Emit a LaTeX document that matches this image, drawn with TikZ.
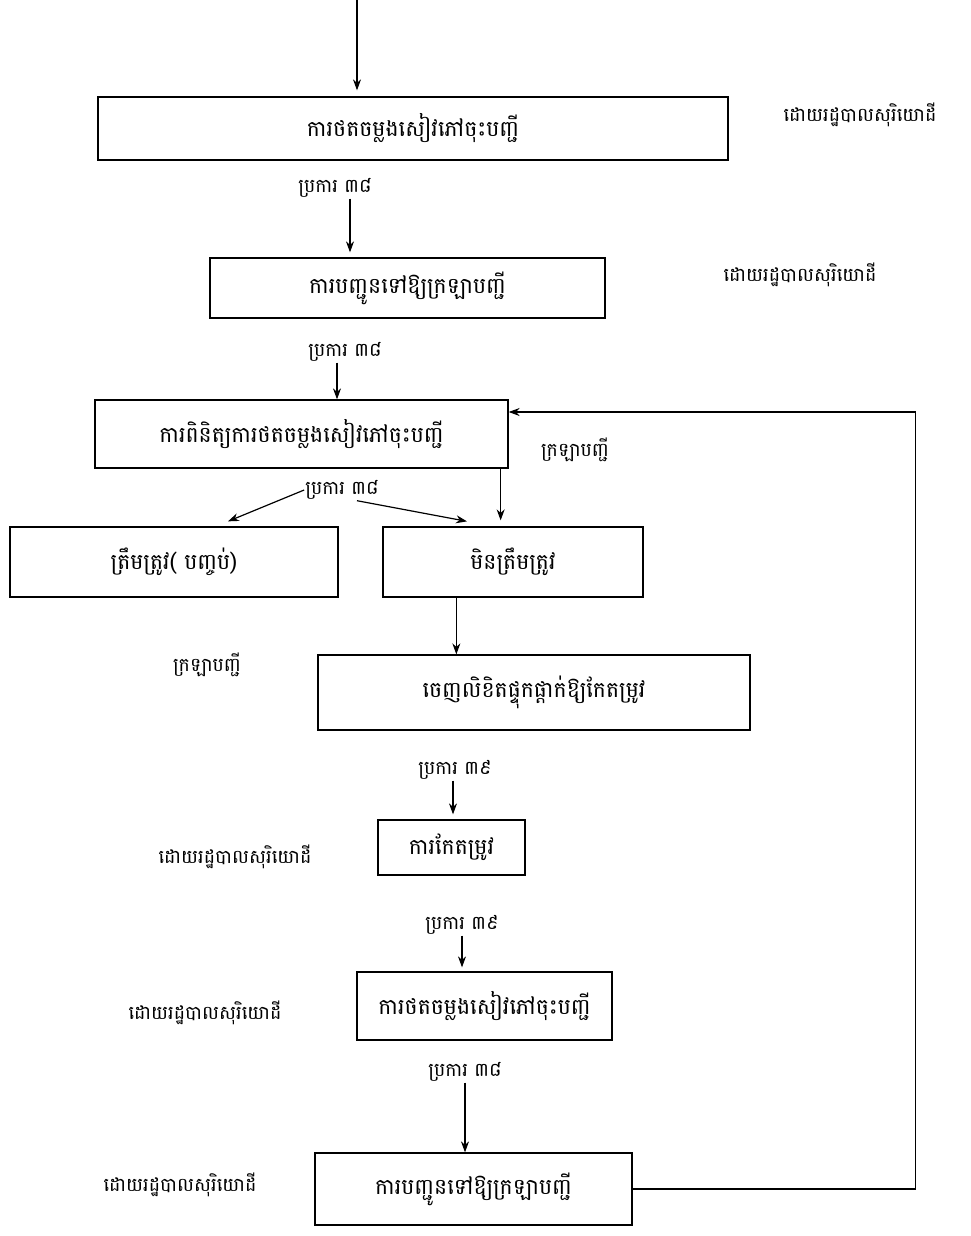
\documentclass[tikz,border=0pt]{standalone}
\usepackage{fontspec}
\newfontfamily\khmerfont[Script=Khmer]{Battambang}
\usetikzlibrary{arrows.meta}
\begin{document}
\begin{tikzpicture}[x=1pt,y=-1pt,
    box/.style={draw,line width=1.3pt,inner sep=0pt,font=\khmerfont\fontsize{22}{26}\selectfont},
    note/.style={inner sep=1pt,font=\khmerfont\fontsize{19}{22}\selectfont},
    flow/.style={line width=1.2pt,-{Stealth[length=11pt,width=8pt]}}]
  \useasboundingbox (0,0) rectangle (970,1236);
  \coordinate (top) at (357,0);
  \draw
    (413,128.5) node[box,minimum width=630,minimum height=63] (b1){ការថតចម្លងសៀវភៅចុះបញ្ជី}
    (407.5,288) node[box,minimum width=395,minimum height=60] (b2){ការបញ្ជូនទៅឱ្យក្រឡាបញ្ជី}
    (301.5,434) node[box,minimum width=413,minimum height=68] (b3){ការពិនិត្យការថតចម្លងសៀវភៅចុះបញ្ជី}
    (174,562) node[box,minimum width=328,minimum height=70] (b4){ត្រឹមត្រូវ( បញ្ចប់)}
    (513,562) node[box,minimum width=260,minimum height=70] (b5){មិនត្រឹមត្រូវ}
    (534,692.5) node[box,minimum width=432,minimum height=75] (b6){ចេញលិខិតផ្ទុកផ្តាក់ឱ្យកែតម្រូវ}
    (451.5,847.5) node[box,minimum width=147,minimum height=55] (b7){ការកែតម្រូវ}
    (484.5,1006) node[box,minimum width=255,minimum height=68] (b8){ការថតចម្លងសៀវភៅចុះបញ្ជី}
    (473.5,1189) node[box,minimum width=317,minimum height=72] (b9){ការបញ្ជូនទៅឱ្យក្រឡាបញ្ជី};
  % who does it
  \draw
    (860,115) node[note] (r1){ដោយរដ្ឋបាលសុរិយោដី}
    (800,275) node[note] (r2){ដោយរដ្ឋបាលសុរិយោដី}
    (575,450) node[note] (k1){ក្រឡាបញ្ជី}
    (207,665) node[note] (k2){ក្រឡាបញ្ជី}
    (235,857) node[note] (l7){ដោយរដ្ឋបាលសុរិយោដី}
    (205,1013) node[note] (l8){ដោយរដ្ឋបាលសុរិយោដី}
    (180,1185) node[note] (l9){ដោយរដ្ឋបាលសុរិយោដី};
  % articles
  \draw
    (335,188) node[note] (a1){ប្រការ ៣៨}
    (345,352) node[note] (a2){ប្រការ ៣៨}
    (342,490) node[note] (a3){ប្រការ ៣៨}
    (455,770) node[note] (a4){ប្រការ ៣៩}
    (462,925) node[note] (a5){ប្រការ ៣៩}
    (465,1072) node[note] (a6){ប្រការ ៣៨};
  \begin{scope}[flow]
    \draw (top) -- ([yshift=6]top |- b1.north);
    \draw ([xshift=15]a1.south) -- ([xshift=15,yshift=5]a1.south |- b2.north);
    \draw ([xshift=-8]a2.south) -- ([xshift=-8]a2.south |- b3.north);
    \draw ([xshift=-8]b3.south east) -- ([xshift=-8,yshift=6]b3.south east |- b5.north);
    \draw (a3.west) -- ([xshift=54,yshift=5]b4.north);
    \draw ([xshift=15]a3.south) -- ([xshift=-46,yshift=5]b5.north);
    \draw ([xshift=74]b5.south west) -- ([xshift=74]b5.south west |- b6.north);
    \draw ([xshift=-2]a4.south) -- ([xshift=-2,yshift=5]a4.south |- b7.north);
    \draw (a5.south) -- ([yshift=4]a5.south |- b8.north);
    \draw (a6.south) -- (a6.south |- b9.north);
    \draw (b9.east) -- ++(283,0) |- ([yshift=22]b3.east);
  \end{scope}
\end{tikzpicture}
\end{document}
